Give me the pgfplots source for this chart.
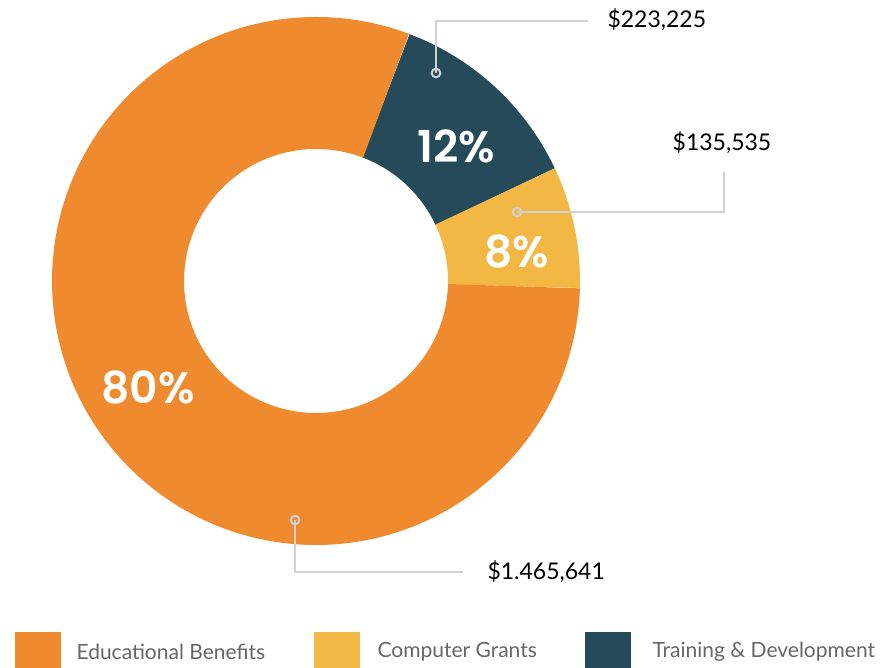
\documentclass[border=0pt]{standalone}
\usepackage{pgfplots}
\pgfplotsset{compat=1.18}
\usepackage{fontspec}
\setmainfont{Lato}
\newfontfamily\pctfont{Poppins}[BoldFont={* SemiBold}]
\definecolor{cOrange}{HTML}{EF8A2E}
\definecolor{cYellow}{HTML}{F2B843}
\definecolor{cDark}{HTML}{254B5A}
\definecolor{cLead}{HTML}{D2D2D2}
\definecolor{cLeg}{HTML}{666666}
% values in thousands of dollars
\def\vEdu{1465.641}
\def\vComp{135.535}
\def\vTrain{223.225}
\pgfmathsetmacro\vTot{\vEdu+\vComp+\vTrain}
\pgfmathsetmacro\aStart{69.3}
\pgfmathsetmacro\fTrain{\vTrain/\vTot}
\pgfmathsetmacro\fComp{\vComp/\vTot}
\pgfmathsetmacro\aA{\aStart-360*\fTrain}
\pgfmathsetmacro\aB{\aA-360*\fComp}
\pgfmathsetmacro\aC{\aStart-360}
\begin{document}
\begin{tikzpicture}
\begin{axis}[x=1pt,y=1pt,xmin=0,xmax=880,ymin=0,ymax=668,
  hide axis,clip=false,scale only axis]
% donut ring segments (mid radius 198, thickness 132)
\addplot[cDark,line width=132pt,line cap=butt,domain=\aA:\aStart,samples=80,smooth] ({316+198*cos(x)},{387+198*sin(x)});
\addplot[cYellow,line width=132pt,line cap=butt,domain=\aB:\aA,samples=60,smooth] ({316+198*cos(x)},{387+198*sin(x)});
\addplot[cOrange,line width=132pt,line cap=butt,domain=\aC:\aB,samples=240,smooth] ({316+198*cos(x)},{387+198*sin(x)});
% leader lines
\addplot[cLead,line width=2.2pt] coordinates {(436,595) (436,647) (588,647)};
\addplot[cLead,line width=2.2pt] coordinates {(517,456) (724,456) (724,496)};
\addplot[cLead,line width=2.2pt] coordinates {(295,148) (295,96) (463,96)};
\addplot[only marks,mark=o,mark size=4.3pt,cLead,mark options={line width=2pt}] coordinates {(436,595) (517,456) (295,148)};
% value labels
\node[anchor=west,font=\fontsize{23}{23}\selectfont] at (axis cs:604,648) {\$223,225};
\node[anchor=center,font=\fontsize{23}{23}\selectfont] at (axis cs:722,525) {\$135,535};
\node[anchor=west,font=\fontsize{23}{23}\selectfont] at (axis cs:484,96) {\$1.465,641};
% percentages
\node[white,font=\pctfont\bfseries\fontsize{44}{44}\selectfont] at (axis cs:456,522) {12\%};
\node[white,font=\pctfont\bfseries\fontsize{44}{44}\selectfont] at (axis cs:517,416) {8\%};
\node[white,font=\pctfont\bfseries\fontsize{44}{44}\selectfont] at (axis cs:148,280) {80\%};
% legend
\addplot[fill=cOrange,draw=none] coordinates {(15,0) (61,0) (61,36) (15,36)} --cycle;
\addplot[fill=cYellow,draw=none] coordinates {(314,0) (360,0) (360,36) (314,36)} --cycle;
\addplot[fill=cDark,draw=none] coordinates {(585,0) (631,0) (631,36) (585,36)} --cycle;
\node[anchor=west,cLeg,font=\fontsize{21}{21}\selectfont] at (axis cs:73,16) {Educational Benefits};
\node[anchor=west,cLeg,font=\fontsize{21}{21}\selectfont] at (axis cs:374,16) {Computer Grants};
\node[anchor=west,cLeg,font=\fontsize{21}{21}\selectfont] at (axis cs:649,16) {Training \& Development};
\end{axis}
\pgfresetboundingbox
\path (current axis.south west) rectangle (current axis.north east);
\end{tikzpicture}
\end{document}
